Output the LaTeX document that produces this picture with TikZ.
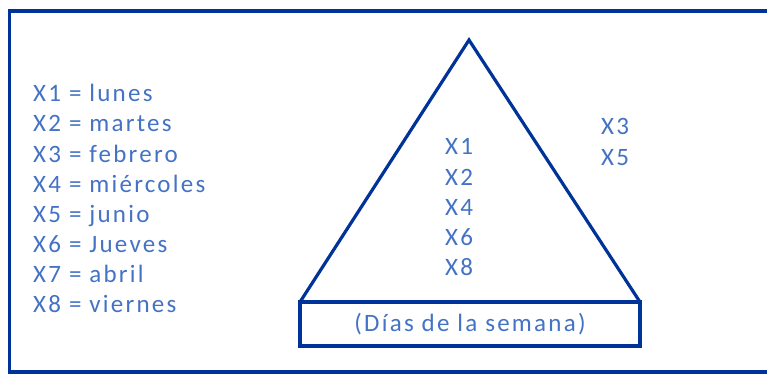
\documentclass[tikz,border=0pt]{standalone}
\usepackage{fontspec}
\setmainfont{Carlito}[LetterSpace=9]
\definecolor{framecol}{RGB}{0,51,153}
\definecolor{txtcol}{RGB}{68,114,196}
\begin{document}
\begin{tikzpicture}[x=1pt,y=-1pt,
  lbl/.style={inner sep=0pt,anchor=base west,text=txtcol,font=\fontsize{25}{28}\selectfont},
  edge/.style={draw=framecol,line width=3.2pt}]
\useasboundingbox (0,0) rectangle (767,374);
\clip (0,0) rectangle (767,374);
% outer frame (right side runs off the picture)
\draw[edge] (780,11) -- (9.5,11) -- (9.5,372) -- (780,372);
% legend
\node[lbl] (l1) at (33,102) {X1 = lunes};
\node[lbl] (l2) at (33,132) {X2 = martes};
\node[lbl] (l3) at (33,162) {X3 = febrero};
\node[lbl] (l4) at (33,192) {X4 = miércoles};
\node[lbl] (l5) at (33,222) {X5 = junio};
\node[lbl] (l6) at (33,252) {X6 = Jueves};
\node[lbl] (l7) at (33,282) {X7 = abril};
\node[lbl] (l8) at (33,312) {X8 = viernes};
% triangle
\coordinate (apex) at (469,40);
\coordinate (bl) at (300,302);
\coordinate (br) at (640,302);
\draw[edge,line join=miter] (bl) -- (apex) -- (br);
% base box
\node[edge,rectangle,minimum width=340pt,minimum height=44pt,inner sep=0pt,
  text=txtcol,font=\fontsize{25}{28}\selectfont] (base) at (470,324) {(Días de la semana)};
% inside labels
\node[lbl] (t1) at (445,155) {X1};
\node[lbl] (t2) at (445,185) {X2};
\node[lbl] (t4) at (445,215) {X4};
\node[lbl] (t6) at (445,245) {X6};
\node[lbl] (t8) at (445,275) {X8};
% outside labels
\node[lbl] (o3) at (601,135) {X3};
\node[lbl] (o5) at (601,165) {X5};
\end{tikzpicture}
\end{document}
